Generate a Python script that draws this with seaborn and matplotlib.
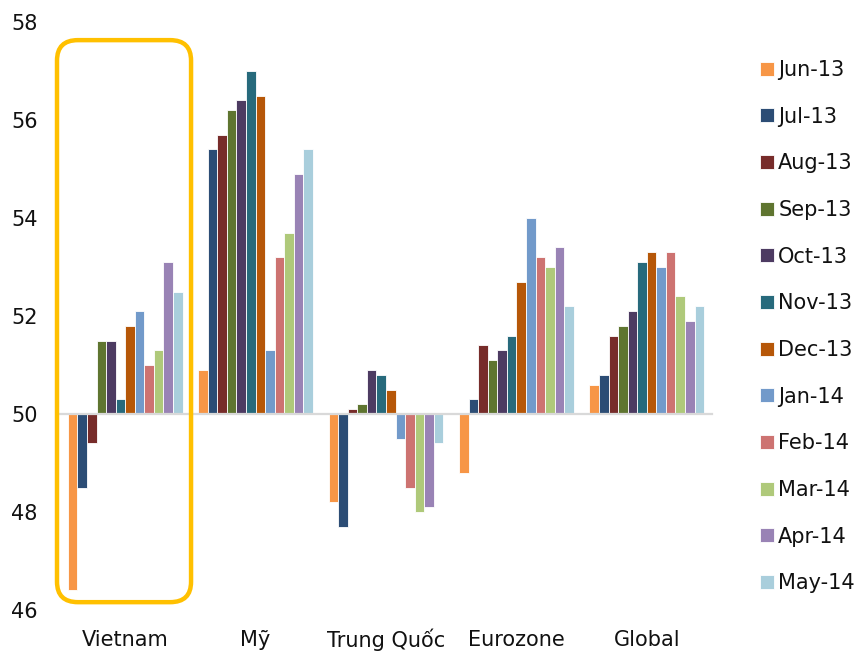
import matplotlib
matplotlib.use("Agg")
import matplotlib.pyplot as plt
import matplotlib.transforms as mtransforms
from matplotlib.patches import FancyBboxPatch
from matplotlib.ticker import FuncFormatter
import seaborn as sns
import pandas as pd

regions = ["Vietnam", "Mỹ", "Trung Quốc", "Eurozone", "Global"]
months = ["Jun-13", "Jul-13", "Aug-13", "Sep-13", "Oct-13", "Nov-13",
          "Dec-13", "Jan-14", "Feb-14", "Mar-14", "Apr-14", "May-14"]

vietnam = [46.4, 48.5, 49.4, 51.5, 51.5, 50.3, 51.8, 52.1, 51.0, 51.3, 53.1, 52.5]
my = [50.9, 55.4, 55.7, 56.2, 56.4, 57.0, 56.5, 51.3, 53.2, 53.7, 54.9, 55.4]
trung_quoc = [48.2, 47.7, 50.1, 50.2, 50.9, 50.8, 50.5, 49.5, 48.5, 48.0, 48.1, 49.4]
eurozone = [48.8, 50.3, 51.4, 51.1, 51.3, 51.6, 52.7, 54.0, 53.2, 53.0, 53.4, 52.2]
global_ = [50.6, 50.8, 51.6, 51.8, 52.1, 53.1, 53.3, 53.0, 53.3, 52.4, 51.9, 52.2]

colors = ["#F79646", "#2C4D75", "#772C2A", "#5F7530", "#4D3B62", "#276A7C",
          "#B65708", "#729ACA", "#CD7371", "#AFC97A", "#9983B5", "#A9CEDC"]

baseline = 50
yticks = [46, 48, 50, 52, 54, 56, 58]

series = [vietnam, my, trung_quoc, eurozone, global_]
rows = []
for reg, vals in zip(regions, series):
    for m, v in zip(months, vals):
        rows.append({"region": reg, "month": m, "value": v, "delta": v - baseline})
df = pd.DataFrame(rows)

sns.set_style("white")
plt.rcParams["font.family"] = ["DejaVu Sans"]

W, H = 858, 654
fig = plt.figure(figsize=(W / 100, H / 100), dpi=100, facecolor="white")
ax_l, ax_r, ax_t, ax_b = 60, 712, 22, 610
ax = fig.add_axes([ax_l / W, 1 - ax_b / H, (ax_r - ax_l) / W, (ax_b - ax_t) / H])
ax.set_facecolor("white")

# bars are drawn relative to the 50 baseline (values - 50)
sns.barplot(data=df, x="region", y="delta", hue="month", order=regions,
            hue_order=months, palette=colors, saturation=1, errorbar=None,
            width=0.88, edgecolor="white", linewidth=0.6, ax=ax)

ax.set_xlim(-0.5, len(regions) - 0.5)
ax.set_ylim(yticks[0] - baseline, yticks[-1] - baseline)
ax.set_yticks([t - baseline for t in yticks])
ax.yaxis.set_major_formatter(FuncFormatter(lambda v, _: f"{v + baseline:.0f}"))
ax.tick_params(axis="y", length=0, pad=16, labelsize=15, labelcolor="#111111")

for s in ["left", "right", "top"]:
    ax.spines[s].set_visible(False)
ax.spines["bottom"].set_position(("data", 0))
ax.spines["bottom"].set_color("#D9D9D9")
ax.spines["bottom"].set_linewidth(1.6)
ax.set_xticks([i - 0.5 for i in range(len(regions) + 1)])
ax.set_xticklabels([])
ax.tick_params(axis="x", length=5, width=1.6, color="#D9D9D9", direction="out")
ax.set_xlabel("")
ax.set_ylabel("")

trans = mtransforms.blended_transform_factory(ax.transData, ax.transAxes)
for i, reg in enumerate(regions):
    ax.text(i, -(640 - ax_b) / (ax_b - ax_t), reg, transform=trans,
            ha="center", va="center", fontsize=15, color="#111111")

# highlight box around Vietnam
box = FancyBboxPatch((-0.523, 46.16 - baseline), 1.028, 57.63 - 46.16,
                     boxstyle="round,pad=0,rounding_size=0.16",
                     mutation_aspect=2.6, fill=False, edgecolor="#FFC000",
                     linewidth=3.2, clip_on=False, zorder=5)
ax.add_patch(box)

handles, labels = ax.get_legend_handles_labels()
ax.legend_.remove()
fig.legend(handles, labels, loc="upper left",
           bbox_to_anchor=(760 / W, 1 - 60 / H), frameon=False,
           fontsize=15, handlelength=0.65, handleheight=0.65,
           handletextpad=0.22, labelspacing=1.28, borderpad=0,
           borderaxespad=0, labelcolor="#111111")

fig.savefig("out.png", dpi=100, facecolor="white")
